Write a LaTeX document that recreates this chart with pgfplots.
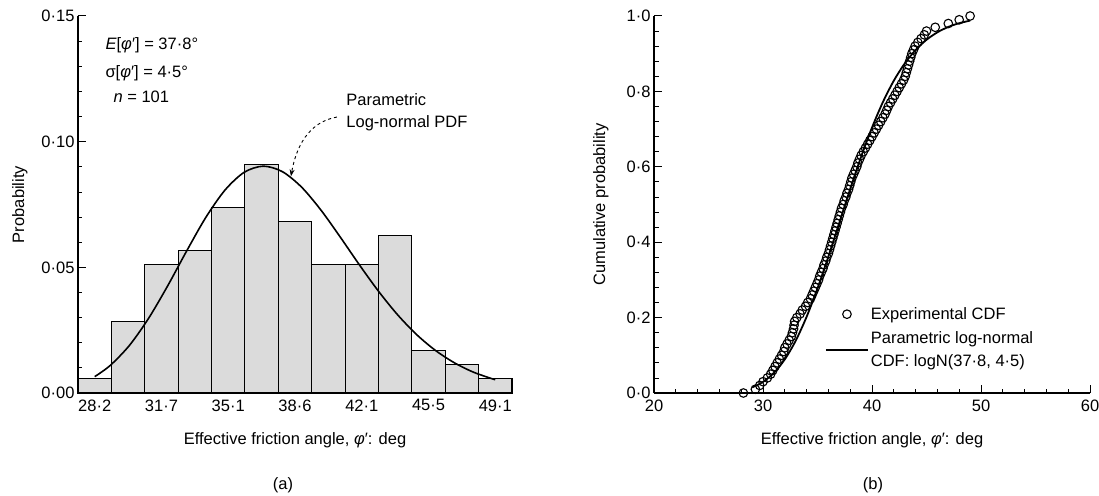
\documentclass[border=0pt]{standalone}
\usepackage{pgfplots}
\pgfplotsset{compat=1.18}
\usepackage{fontspec}
\setmainfont{Liberation Sans}
\usetikzlibrary{arrows.meta}

\pgfplotsset{
  myaxis/.style={
    scale only axis,
    axis x line=bottom, axis y line=left,
    axis line style={-, line width=1.2pt},
    tick align=inside,
    major tick length=8pt, minor tick length=4.5pt,
    every tick/.style={black, line width=1pt},
    every minor tick/.style={black, line width=0.8pt},
    font=\fontsize{16.5}{19.8}\selectfont,
    tick label style={font=\fontsize{16.5}{19.8}\selectfont},
    xticklabel style={yshift=-3pt},
    clip=false,
  }
}

\begin{document}
\begin{tikzpicture}[font=\fontsize{16.5}{19.8}\selectfont]
\path[use as bounding box] (-78pt,-102pt) rectangle (1021pt,393pt);

% ---------------- (a) histogram ----------------
\begin{axis}[myaxis,
  at={(0pt,0pt)}, anchor=south west,
  width=434pt, height=377pt,
  xmin=27.329, xmax=49.975, ymin=0, ymax=0.15,
  xtick={28.2,29.942,31.684,33.426,35.168,36.91,38.652,40.394,42.136,43.878,45.62,47.362,49.104},
  xticklabels={28·2,,31·7,,35·1,,38·6,,42·1,,45·5,,49·1},
  ytick={0,0.05,0.10,0.15},
  yticklabels={0·00,0·05,0·10,0·15},
  minor y tick num=4,
  xlabel={Effective friction angle, \textit{φ}′: deg},
  ylabel={Probability},
  every axis y label/.style={at={(axis description cs:-0.134,0.5)}, rotate=90, anchor=center},
  every axis x label/.style={at={(axis description cs:0.5,-0.125)}, anchor=center},
]
\addplot[ybar interval, fill=black!14, draw=black, line width=1.1pt] coordinates {
(27.329,0.00568) (29.071,0.02842) (30.813,0.05116) (32.555,0.05684)
(34.297,0.07389) (36.039,0.09094) (37.781,0.06821) (39.523,0.05116)
(41.265,0.05116) (43.007,0.06252) (44.749,0.01705) (46.491,0.01137)
(48.233,0.00568) (49.975,0.00568)
};
\addplot[black, line width=1.6pt, smooth] coordinates {
(28.2,0.00651) (29,0.01089) (30,0.01882) (31,0.02956) (32,0.04252)
(33,0.05653) (34,0.06988) (35,0.08074) (36,0.08781) (37,0.09025)
(38,0.08804) (39,0.08187) (40,0.07283) (41,0.06219) (42,0.05112)
(43,0.04058) (44,0.03117) (45,0.02322) (46,0.01683) (47,0.01188)
(48,0.00817) (49.1,0.00528)
};
\node[anchor=west] at (axis cs:28.58,0.1385) {\textit{E}[\textit{φ}′] = 37·8°};
\node[anchor=west] at (axis cs:28.58,0.1273) {σ[\textit{φ}′] = 4·5°};
\node[anchor=west] at (axis cs:29.0,0.1178) {\textit{n} = 101};
\node[anchor=west] at (axis cs:41.15,0.1166) {Parametric};
\node[anchor=west] at (axis cs:41.15,0.1074) {Log-normal PDF};
\draw[dashed, line width=0.9pt, -{Stealth[length=7pt,width=5pt]}]
  (axis cs:40.84,0.1098) to[out=190,in=80] (axis cs:38.44,0.0862);
\end{axis}

% ---------------- (b) CDF ----------------
\begin{axis}[myaxis,
  at={(576pt,0pt)}, anchor=south west,
  width=436pt, height=377pt,
  xmin=20, xmax=60, ymin=0, ymax=1.0,
  xtick={20,30,40,50,60},
  xticklabels={20,30,40,50,60},
  minor x tick num=4,
  ytick={0,0.2,0.4,0.6,0.8,1.0},
  yticklabels={0·0,0·2,0·4,0·6,0·8,1·0},
  minor y tick num=4,
  xlabel={Effective friction angle, \textit{φ}′: deg},
  ylabel={Cumulative probability},
  every axis y label/.style={at={(axis description cs:-0.122,0.5)}, rotate=90, anchor=center},
  every axis x label/.style={at={(axis description cs:0.5,-0.125)}, anchor=center},
  legend image code/.code={\draw[mark repeat=2,mark phase=2,#1] plot coordinates {(0pt,0pt) (21pt,0pt) (42pt,0pt)};},
  legend style={at={(axis description cs:0.385,0.238)}, anchor=north west, draw=none, fill=none,
    font=\fontsize{16.5}{22.5}\selectfont, row sep=7pt,
    cells={anchor=west, align=left}},
  legend cell align=left,
]
\addplot[only marks, mark=o, mark size=4.3pt, mark options={line width=1.1pt, draw=black}] coordinates {
(28.2,0.00) (29.3,0.01) (29.7,0.02) (30.0,0.03) (30.4,0.04) (30.7,0.05)
(30.9,0.06) (31.1,0.07) (31.3,0.08) (31.5,0.09) (31.7,0.10) (31.9,0.11)
(32.0,0.12) (32.2,0.13) (32.4,0.14) (32.6,0.15) (32.7,0.16) (32.8,0.17)
(32.85,0.18) (32.9,0.19) (33.1,0.20) (33.4,0.21) (33.6,0.22) (33.9,0.23)
(34.1,0.24) (34.35,0.25) (34.5,0.26) (34.65,0.27) (34.8,0.28) (34.95,0.29)
(35.1,0.30) (35.2,0.31) (35.35,0.32) (35.5,0.33) (35.6,0.34) (35.75,0.35)
(35.85,0.36) (36.0,0.37) (36.1,0.38) (36.2,0.39) (36.3,0.40) (36.4,0.41)
(36.5,0.42) (36.6,0.43) (36.7,0.44) (36.8,0.45) (36.9,0.46) (37.0,0.47)
(37.1,0.48) (37.2,0.49) (37.35,0.50) (37.45,0.51) (37.6,0.52) (37.7,0.53)
(37.85,0.54) (37.95,0.55) (38.05,0.56) (38.15,0.57) (38.3,0.58) (38.45,0.59)
(38.6,0.60) (38.7,0.61) (38.85,0.62) (39.0,0.63) (39.2,0.64) (39.4,0.65)
(39.6,0.66) (39.8,0.67) (40.0,0.68) (40.2,0.69) (40.4,0.70) (40.6,0.71)
(40.8,0.72) (41.0,0.73) (41.2,0.74) (41.35,0.75) (41.5,0.76) (41.7,0.77)
(41.9,0.78) (42.1,0.79) (42.3,0.80) (42.5,0.81) (42.7,0.82) (42.9,0.83)
(43.05,0.84) (43.15,0.85) (43.25,0.86) (43.35,0.87) (43.45,0.88) (43.55,0.89)
(43.65,0.90) (43.8,0.91) (43.95,0.92) (44.2,0.93) (44.5,0.94) (44.8,0.95)
(45.0,0.96) (45.8,0.97) (47.0,0.98) (48.0,0.99) (49.0,1.00)
};
\addlegendentry{Experimental CDF}
\addplot[black, line width=1.8pt, smooth] coordinates {
(29,0.0148) (30,0.0294) (31,0.0534) (32,0.0892) (33,0.1387) (34,0.2021)
(35,0.2776) (36,0.3624) (37,0.4517) (38,0.5413) (39,0.6266) (40,0.7041)
(41,0.7717) (42,0.8284) (43,0.8741) (44,0.9098) (45,0.9369) (46,0.9568)
(47,0.9710) (48,0.9809) (49,0.9877)
};
\addlegendentry{Parametric log-normal\\CDF: logN(37·8, 4·5)}
\end{axis}

\node at (205pt,-92pt) {(a)};
\node at (795pt,-92pt) {(b)};
\end{tikzpicture}
\end{document}
